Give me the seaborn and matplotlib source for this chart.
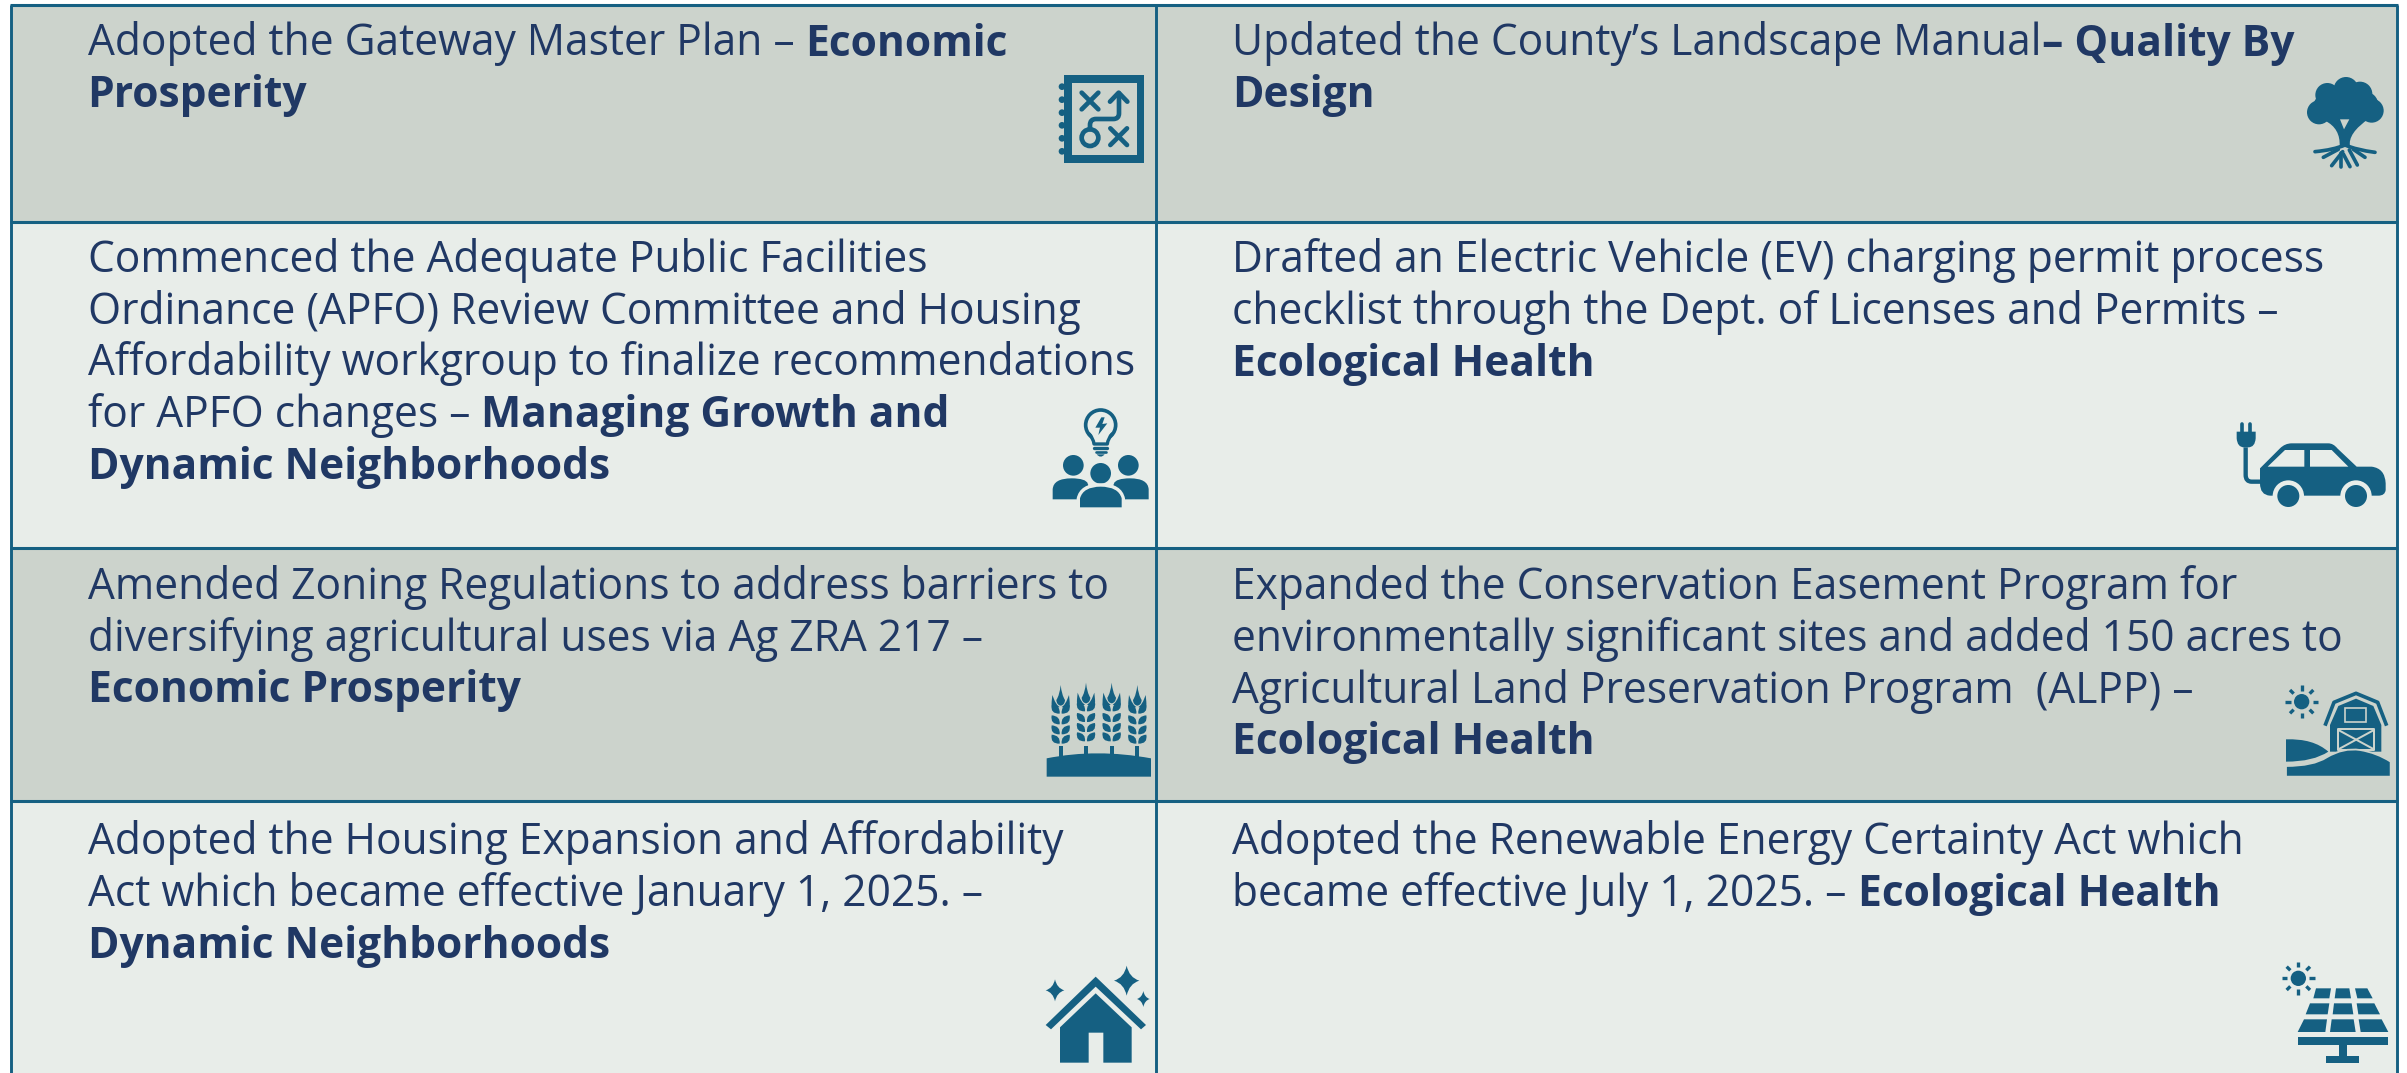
import matplotlib
matplotlib.use("Agg")
import matplotlib.pyplot as plt
import seaborn as sns
from matplotlib.colors import ListedColormap
from matplotlib.patches import Circle, PathPatch
from matplotlib.path import Path
from matplotlib.transforms import Affine2D

# each line is (regular part, bold part)
gateway = [("Adopted the Gateway Master Plan – ", "Economic"), ("", "Prosperity")]
landscape = [("Updated the County’s Landscape Manual", "– Quality By"), ("", "Design")]
apfo = [("Commenced the Adequate Public Facilities", ""),
        ("Ordinance (APFO) Review Committee and Housing", ""),
        ("Affordability workgroup to finalize recommendations", ""),
        ("for APFO changes – ", "Managing Growth and"),
        ("", "Dynamic Neighborhoods")]
ev_permit = [("Drafted an Electric Vehicle (EV) charging permit process", ""),
             ("checklist through the Dept. of Licenses and Permits –", ""),
             ("", "Ecological Health")]
zoning = [("Amended Zoning Regulations to address barriers to", ""),
          ("diversifying agricultural uses via Ag ZRA 217 –", ""),
          ("", "Economic Prosperity")]
easement = [("Expanded the Conservation Easement Program for", ""),
            ("environmentally significant sites and added 150 acres to", ""),
            ("Agricultural Land Preservation Program  (ALPP) –", ""),
            ("", "Ecological Health")]
housing = [("Adopted the Housing Expansion and Affordability", ""),
           ("Act which became effective January 1, 2025. –", ""),
           ("", "Dynamic Neighborhoods")]
renewable = [("Adopted the Renewable Energy Certainty Act which", ""),
             ("became effective July 1, 2025. – ", "Ecological Health")]
row_shade = [1, 0, 1, 0]

W, H = 2407, 1073
LEFT, MID, RIGHT = 11, 1156, 2397
ROW_Y = [5, 222, 548, 801, 1073]
TEAL = "#156082"
NAVY = "#203864"
DARK = "#CCD3CC"
LIGHT = "#E8EDE9"
FS = 30.65

sns.set_theme(style="white")
plt.rcParams["font.family"] = ["Open Sans", "DejaVu Sans"]

fig = plt.figure(figsize=(W / 100, H / 100), dpi=100, facecolor="white")
grid = fig.add_gridspec(4, 1, left=LEFT / W, right=RIGHT / W, top=1 - ROW_Y[0] / H, bottom=0,
                        hspace=0, height_ratios=[ROW_Y[i + 1] - ROW_Y[i] for i in range(4)])
cmap = ListedColormap([LIGHT, DARK])
for i, shade in enumerate(row_shade):
    cell_ax = fig.add_subplot(grid[i])
    sns.heatmap([[shade, shade]], vmin=0, vmax=1, cmap=cmap, cbar=False,
                xticklabels=False, yticklabels=False, ax=cell_ax)

ax = fig.add_axes([0, 0, 1, 1])
ax.set_xlim(0, W)
ax.set_ylim(H, 0)
ax.axis("off")

for y in ROW_Y[:-1]:
    ax.plot([LEFT - 1, RIGHT + 1], [y, y], color=TEAL, lw=2.2, solid_capstyle="butt")
for x in (LEFT, MID, RIGHT):
    ax.plot([x, x], [ROW_Y[0], H], color=TEAL, lw=2.1, solid_capstyle="butt")


def draw_cell(lines, x, y0):
    renderer = fig.canvas.get_renderer()
    for n, (plain, bold) in enumerate(lines):
        y = y0 + n * 51.75
        cur = x
        if plain:
            t = ax.text(cur, y, plain, fontsize=FS, color=NAVY, va="baseline")
            cur += t.get_window_extent(renderer).width
        if bold:
            ax.text(cur, y, bold, fontsize=FS, color=NAVY, va="baseline", fontweight="bold")


draw_cell(gateway, 87.5, 55.5)
draw_cell(landscape, 1232.5, 55.5)
draw_cell(apfo, 87.5, 272)
draw_cell(ev_permit, 1232.5, 272)
draw_cell(zoning, 87.5, 599)
draw_cell(easement, 1232.5, 599)
draw_cell(housing, 87.5, 854)
draw_cell(renewable, 1232.5, 854)


# icons are traced at 3x from the crop corner (ox, oy)
def make_path(s):
    tok = s.split()
    verts, codes = [], []
    i = 0
    while i < len(tok):
        c = tok[i]
        if c == "Z":
            verts.append((0, 0))
            codes.append(Path.CLOSEPOLY)
            i += 1
        elif c == "Q":
            verts += [(float(tok[i + 1]), float(tok[i + 2])), (float(tok[i + 3]), float(tok[i + 4]))]
            codes += [Path.CURVE3, Path.CURVE3]
            i += 5
        else:
            verts.append((float(tok[i + 1]), float(tok[i + 2])))
            codes.append(Path.MOVETO if c == "M" else Path.LINETO)
            i += 3
    return Path(verts, codes)


class Icon:
    def __init__(self, ox, oy, bg):
        self.tr = Affine2D().scale(1 / 3).translate(ox, oy) + ax.transData
        self.bg = bg

    def fill(self, s, color=TEAL, edge="none", lw=0):
        ax.add_patch(PathPatch(make_path(s), facecolor=color, edgecolor=edge, lw=lw, transform=self.tr))

    def stroke(self, s, w=10, color=TEAL, cap="round"):
        ax.add_patch(PathPatch(make_path(s), facecolor="none", edgecolor=color, lw=w * 0.24,
                               capstyle=cap, joinstyle="round", transform=self.tr))

    def dot(self, x, y, r, color=TEAL):
        ax.add_patch(Circle((x, y), r, facecolor=color, edgecolor="none", transform=self.tr))

    def ring(self, x, y, r, w, color=TEAL):
        ax.add_patch(Circle((x, y), r, facecolor="none", edgecolor=color, lw=w * 0.24, transform=self.tr))

    def sun(self, x, y):
        self.dot(x, y, 23)
        for dx, dy in [(1, 0), (-1, 0), (0, 1), (0, -1)]:
            self.stroke(f"M {x + dx * 33} {y + dy * 33} L {x + dx * 49} {y + dy * 49}", 10, cap="butt")
        for dx, dy in [(1, 1), (-1, 1), (1, -1), (-1, -1)]:
            self.stroke(f"M {x + dx * 24} {y + dy * 24} L {x + dx * 35} {y + dy * 35}", 10, cap="butt")

    def star(self, x, y, rx, ry):
        a, b = rx * 0.2, ry * 0.2
        self.fill(f"M {x} {y - ry} Q {x + a} {y - b} {x + rx} {y} Q {x + a} {y + b} {x} {y + ry} "
                  f"Q {x - a} {y + b} {x - rx} {y} Q {x - a} {y - b} {x} {y - ry} Z")


# notebook
ic = Icon(1000, 50, DARK)
ic.fill("M 193 76 L 432 76 L 432 338 L 193 338 Z")
ic.fill("M 216 98 L 410 98 L 410 316 L 216 316 Z", DARK)
for y in (110, 149, 188, 226, 265, 304):
    ic.dot(186, y, 10)
for cx, cy in ((270, 153), (356, 260)):
    ic.stroke(f"M {cx - 25} {cy - 25} L {cx + 25} {cy + 25}", 14)
    ic.stroke(f"M {cx - 25} {cy + 25} L {cx + 25} {cy - 25}", 14)
ic.ring(270, 263, 25, 14)
ic.stroke("M 270 238 L 270 225 Q 270 207 288 207 L 340 207 Q 357 207 357 190 L 357 130", 14)
ic.stroke("M 330 155 L 356 128 L 382 155", 14)

# tree
ic = Icon(2270, 50, DARK)
for x, y, r in ((147, 187, 36), (305, 182, 36), (172, 135, 36), (228, 118, 37), (270, 132, 37),
                (225, 160, 58), (170, 170, 40), (285, 165, 40)):
    ic.dot(x, y, r)
ic.fill("M 165 212 Q 212 235 209 290 L 240 290 Q 232 250 298 205 L 250 190 L 180 190 Z")
ic.fill("M 210 208 L 222 238 L 238 208 Z", DARK)
ic.stroke("M 135 305 Q 190 300 225 285 Q 260 300 315 307", 11)
for seg in ("M 160 322 L 205 298", "M 185 347 L 218 305", "M 212 350 L 212 310", "M 240 350 L 220 312",
            "M 262 345 L 238 300", "M 285 322 L 250 298"):
    ic.stroke(seg, 11)

# people and bulb
ic = Icon(1030, 390, LIGHT)
ic.ring(212, 105, 45, 11)
ic.fill("M 180 135 L 244 135 L 232 160 L 192 160 Z", LIGHT)
ic.stroke("M 178 132 Q 190 145 192 162 L 232 162 Q 234 145 246 132", 10)
ic.stroke("M 193 174 L 232 174", 10)
ic.stroke("M 197 187 L 228 187", 8)
ic.fill("M 200 193 L 224 193 Q 212 207 200 193 Z")
ic.fill("M 214 82 L 196 113 L 210 113 L 205 135 L 232 100 L 217 102 L 224 82 Z")
for x in (130, 295):
    ic.dot(x, 226, 31)
ic.fill("M 68 328 L 68 298 Q 70 265 125 265 Q 210 265 150 328 Z")
ic.fill("M 356 328 L 356 298 Q 354 265 300 265 Q 215 265 275 328 Z")
ic.dot(212, 250, 39, LIGHT)
ic.dot(212, 250, 31)
ic.fill("M 140 360 L 140 325 Q 150 280 212 280 Q 275 280 285 325 L 285 360 Z", LIGHT)
ic.fill("M 150 352 L 150 325 Q 160 290 212 290 Q 265 290 275 325 L 275 352 Z")

# car and plug
ic = Icon(2220, 400, LIGHT)
ic.stroke("M 77 142 L 77 225 Q 77 245 95 245 L 125 245", 13, cap="butt")
ic.fill("M 50 95 L 107 95 L 107 115 Q 105 142 85 142 L 72 142 Q 52 142 50 115 Z")
ic.stroke("M 65 72 L 65 95", 11)
ic.stroke("M 90 72 L 90 95", 11)
ic.fill("M 120 205 L 180 145 Q 195 130 215 130 L 325 130 Q 340 130 352 145 L 410 200 L 455 200 "
        "Q 495 205 497 250 L 497 270 Q 495 287 475 287 L 150 287 Q 120 285 120 250 Z")
ic.fill("M 143 200 L 195 150 L 253 150 L 253 200 Z", LIGHT)
ic.fill("M 270 150 L 335 150 L 385 200 L 270 200 Z", LIGHT)
for x in (205, 408):
    ic.dot(x, 288, 47, LIGHT)
ic.fill("M 155 289 L 255 289 L 255 330 L 155 330 Z", LIGHT)
ic.fill("M 358 289 L 458 289 L 458 330 L 358 330 Z", LIGHT)
for x in (205, 408):
    ic.dot(x, 288, 33)

# wheat
ic = Icon(1030, 670, DARK)
ic.fill("M 50 265 Q 200 235 363 265 L 363 320 L 50 320 Z")
for cx, top in ((92, 45), (168, 38), (245, 38), (322, 45)):
    d = top - 45
    ic.fill(f"M {cx - 6} {228} L {cx + 6} {228} L {cx + 6} 262 L {cx - 6} 262 Z")
    for y in (118, 150, 180, 208):
        yy = y + d
        ic.fill(f"M {cx - 3} {yy + 13} Q {cx - 32} {yy + 14} {cx - 27} {yy - 14} Q {cx} {yy - 12} {cx - 3} {yy + 13} Z")
        ic.fill(f"M {cx + 3} {yy + 13} Q {cx + 32} {yy + 14} {cx + 27} {yy - 14} Q {cx} {yy - 12} {cx + 3} {yy + 13} Z")
    ic.fill(f"M {cx} {top} Q {cx + 3} {top + 30} {cx + 13} {top + 45} Q {cx + 12} {top + 60} {cx} {top + 62} "
            f"Q {cx - 12} {top + 60} {cx - 13} {top + 45} Q {cx - 3} {top + 30} {cx} {top} Z")
    ic.fill(f"M {cx - 25} {top + 30} L {cx - 21} {top + 40} Q {cx - 14} {top + 60} {cx - 3} {top + 66} "
            f"Q {cx - 30} {top + 80} {cx - 27} {top + 50} Z")
    ic.fill(f"M {cx + 25} {top + 30} L {cx + 21} {top + 40} Q {cx + 14} {top + 60} {cx + 3} {top + 66} "
            f"Q {cx + 30} {top + 80} {cx + 27} {top + 50} Z")

# barn
ic = Icon(2260, 670, DARK)
ic.sun(125, 95)
ic.stroke("M 195 167 L 222 97 L 288 70 L 353 97 L 380 167", 11, cap="butt")
ic.fill("M 210 165 L 235 108 L 288 86 L 340 108 L 364 165 L 364 245 L 210 245 Z")
ic.fill("M 255 114 L 319 114 L 319 155 L 255 155 Z", TEAL, DARK, 1.2)
for seg in ("M 233 178 L 343 178 L 343 240 L 233 240 Z", "M 235 180 L 342 238", "M 342 180 L 235 238"):
    ic.stroke(seg, 6, DARK, cap="butt")
ic.fill("M 78 208 Q 160 205 205 245 Q 160 275 78 275 Z")
ic.fill("M 78 288 Q 160 288 200 262 Q 250 232 300 240 Q 350 248 392 275 L 392 320 L 78 320 Z", TEAL, DARK, 1.3)
ic.fill("M 76 288 L 78 288 L 78 322 L 76 322 Z", DARK)
ic.fill("M 76 319.5 L 394 319.5 L 394 323 L 76 323 Z", DARK)

# house
ic = Icon(1030, 950, LIGHT)
ic.fill("M 197 80 L 348 225 L 333 238 L 197 110 L 63 238 L 47 225 Z")
ic.fill("M 197 130 L 305 232 L 305 338 L 220 338 L 220 248 L 176 248 L 176 338 L 90 338 L 90 232 Z")
ic.star(290, 92, 38, 45)
ic.star(75, 121, 28, 33)
ic.star(340, 147, 19, 24)

# solar panel
ic = Icon(2260, 950, LIGHT)
ic.sun(115, 85)
for cell in ("168 115 213 115 208 145 160 145", "228 115 268 115 273 145 224 145", "285 115 322 115 338 145 292 145",
             "150 160 208 160 203 193 137 193", "222 160 275 160 280 193 218 193", "290 160 343 160 360 193 295 193",
             "132 208 201 208 196 246 113 246", "215 208 281 208 287 246 210 246", "296 208 365 208 385 246 302 246"):
    p = cell.split()
    ic.fill(f"M {p[0]} {p[1]} L {p[2]} {p[3]} L {p[4]} {p[5]} L {p[6]} {p[7]} Z")
ic.fill("M 113 261 L 385 261 L 385 284 L 113 284 Z")
ic.fill("M 238 284 L 260 284 L 260 318 L 238 318 Z")
ic.fill("M 199 318 L 298 318 L 298 340 L 199 340 Z")

fig.savefig("out.png", dpi=100, facecolor="white")
